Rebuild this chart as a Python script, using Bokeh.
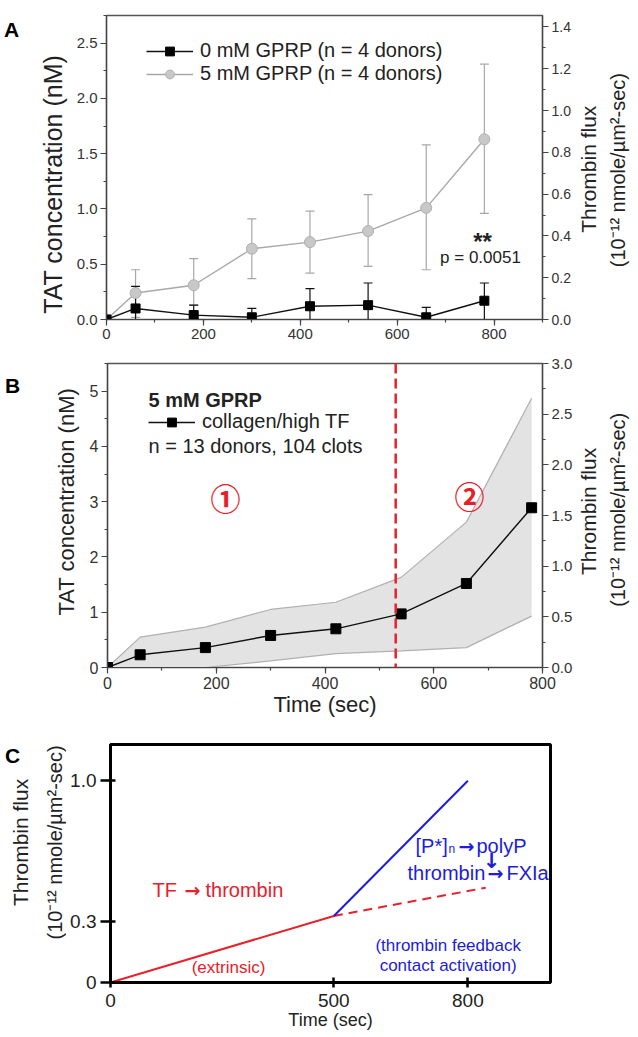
import math
from bokeh.plotting import figure
from bokeh.models import (Range1d, LinearAxis, SingleIntervalTicker, FixedTicker,
                          PrintfTickFormatter, Label, Legend, LegendItem, Whisker,
                          ColumnDataSource, Span, TeeHead)
from bokeh.core.properties import value
from bokeh.layouts import column, row
from bokeh.embed import file_html
from bokeh.resources import INLINE

FONT = "Liberation Sans"

# ---------------- Panel A data ----------------
time_a = [0, 60, 180, 300, 420, 540, 660, 780]
tat_0mm = [0, 0.10, 0.04, 0.02, 0.12, 0.13, 0.02, 0.17]
tat_0mm_upper = [0, 0.30, 0.13, 0.10, 0.28, 0.33, 0.11, 0.33]
tat_0mm_lower = [0, 0.0, 0.0, 0.0, 0.0, 0.0, 0.0, 0.0]
tat_5mm = [0, 0.24, 0.31, 0.64, 0.70, 0.80, 1.01, 1.63]
tat_5mm_upper = [0, 0.45, 0.55, 0.91, 0.98, 1.13, 1.58, 2.31]
tat_5mm_lower = [0, 0.02, 0.13, 0.37, 0.42, 0.48, 0.45, 0.96]
legend_a = ["0 mM GPRP (n = 4 donors)", "5 mM GPRP (n = 4 donors)"]

# ---------------- Panel B data ----------------
time_b = [0, 60, 180, 300, 420, 540, 660, 780]
tat_b = [0, 0.23, 0.36, 0.58, 0.70, 0.97, 1.52, 2.89]
tat_b_upper = [0, 0.55, 0.73, 1.05, 1.18, 1.63, 2.63, 4.87]
tat_b_lower = [0, 0.0, 0.0, 0.12, 0.25, 0.30, 0.36, 0.93]
phase_boundary_b = 530

# ---------------- Panel C data ----------------
time_extrinsic = [0, 500]
flux_extrinsic = [0, 0.33]
time_extrap = [500, 840]
flux_extrap = [0.33, 0.47]
time_contact = [500, 800]
flux_contact = [0.33, 1.0]
ticks_c_x = [0, 500, 800]
ticks_c_y = [0, 0.3, 1.0]

FLUX_UNITS = "(10\u207b\u00b9\u00b2 nmole/\u00b5m\u00b2-sec)"
RED = "#e8202a"
BLUE = "#1c1cdc"
TXT = "#222222"


def lab(p, sx, sy, text, size, color=TXT, bold=False, align="center", font=FONT):
    p.add_layout(Label(x=sx, y=sy, x_units="screen", y_units="screen", text=text,
                       text_font=font, text_font_size=f"{size}px", text_color=color,
                       text_font_style="bold" if bold else "normal",
                       text_align=align, text_baseline="middle"))


def style_axis(ax, size, color="#444444", out=6, minor_out=3, tin=0, standoff=4, lw=1.2):
    ax.axis_line_color = color
    ax.axis_line_width = lw
    ax.major_tick_line_color = color
    ax.minor_tick_line_color = color
    ax.major_tick_line_width = lw
    ax.minor_tick_line_width = lw
    ax.major_tick_out = out
    ax.major_tick_in = tin
    ax.minor_tick_out = minor_out
    ax.minor_tick_in = 0
    ax.major_label_text_font = FONT
    ax.major_label_text_font_size = f"{size}px"
    ax.major_label_text_color = "#333333"
    ax.major_label_standoff = standoff


def base_fig(w, h, xr, yr, bl, br, bt, bb):
    p = figure(width=w, height=h, x_range=xr, y_range=yr, toolbar_location=None,
               output_backend="svg", min_border_left=bl, min_border_right=br,
               min_border_top=bt, min_border_bottom=bb)
    p.xgrid.visible = False
    p.ygrid.visible = False
    p.background_fill_color = "white"
    p.border_fill_color = "white"
    return p


def strip(w, h, items):
    """Blank figure (pixel coordinates) that carries the axis titles outside a frame."""
    s = figure(width=w, height=h, x_range=Range1d(0, w), y_range=Range1d(0, h),
               toolbar_location=None, output_backend="svg", min_border=0,
               x_axis_location=None, y_axis_location=None)
    s.outline_line_color = None
    s.xgrid.visible = False
    s.ygrid.visible = False
    s.border_fill_color = "white"
    for (x, y, text, size, bold, angle) in items:
        s.text(x=[x], y=[y], text=[text], angle=angle, text_font=value(FONT),
               text_font_size=value(f"{size}px"),
               text_font_style="bold" if bold else "normal",
               text_color="black" if bold else TXT,
               text_align="center", text_baseline="middle")
    return s


UP = math.pi / 2

# ================= Panel A =================
HA = 346
pA = base_fig(505, HA, Range1d(0, 900), Range1d(0, 2.75), 36, 33, 15, 27)
pA.extra_y_ranges = {"flux": Range1d(0, 1.455)}
pA.outline_line_color = "#555555"
pA.outline_line_width = 1.5
pA.xaxis.ticker = SingleIntervalTicker(interval=200, num_minor_ticks=2)
pA.xaxis.formatter = PrintfTickFormatter(format="%d")
pA.yaxis.ticker = SingleIntervalTicker(interval=0.5, num_minor_ticks=2)
pA.yaxis.formatter = PrintfTickFormatter(format="%.1f")
rA = LinearAxis(y_range_name="flux", ticker=SingleIntervalTicker(interval=0.2, num_minor_ticks=2),
                formatter=PrintfTickFormatter(format="%.1f"))
pA.add_layout(rA, "right")
style_axis(pA.xaxis[0], 15, standoff=3)
style_axis(pA.yaxis[0], 15, standoff=3)
style_axis(rA, 14, standoff=3)

src5 = ColumnDataSource(dict(t=time_a[1:], hi=tat_5mm_upper[1:], lo=tat_5mm_lower[1:]))
src0 = ColumnDataSource(dict(t=time_a[1:], hi=tat_0mm_upper[1:], lo=tat_0mm_lower[1:]))
pA.add_layout(Whisker(source=src5, base="t", upper="hi", lower="lo", line_color="#a8a8a8",
                      line_width=1.2,
                      upper_head=TeeHead(size=9, line_color="#a8a8a8", line_width=1.2),
                      lower_head=TeeHead(size=9, line_color="#a8a8a8", line_width=1.2)))
pA.add_layout(Whisker(source=src0, base="t", upper="hi", lower="lo", line_color="#111111",
                      line_width=1.2,
                      upper_head=TeeHead(size=9, line_color="#111111", line_width=1.2),
                      lower_head=TeeHead(size=9, line_color="#111111", line_width=1.2)))
l5 = pA.line(time_a, tat_5mm, line_color="#a8a8a8", line_width=1.4)
c5 = pA.scatter(time_a, tat_5mm, marker="circle", size=11, fill_color="#c8c8c8",
                line_color="#b0b0b0")
l0 = pA.line(time_a, tat_0mm, line_color="#111111", line_width=1.4)
s0 = pA.scatter(time_a, tat_0mm, marker="square", size=9, fill_color="black",
                line_color="black")
legA = Legend(items=[LegendItem(label=legend_a[0], renderers=[l0, s0]),
                     LegendItem(label=legend_a[1], renderers=[l5, c5])],
              location=(40, 234), glyph_width=47, glyph_height=22, label_height=22,
              label_text_font=FONT, label_text_font_size="20px", label_text_color=TXT,
              label_standoff=7, spacing=0, padding=0, margin=0,
              border_line_alpha=0, background_fill_alpha=0)
pA.add_layout(legA)
lab(pA, 376, 78, "**", 24, bold=True)
lab(pA, 374, 62, "p = 0.0051", 17)

sAL = strip(70, HA, [(11, HA - 16, "A", 21, True, 0),
                     (52, HA - 192, "TAT concentration (nM)", 25, False, UP)])
sAR = strip(61, HA, [(13, HA - 175, "Thrombin flux", 21, False, UP),
                     (42, HA - 176, FLUX_UNITS, 20, False, UP)])

# ================= Panel B =================
HB = 374
pB = base_fig(493, HB, Range1d(0, 800), Range1d(0, 5.5), 25, 32, 17, 53)
pB.extra_y_ranges = {"flux": Range1d(0, 3.0)}
pB.outline_line_color = "#555555"
pB.outline_line_width = 1.5
pB.xaxis.ticker = SingleIntervalTicker(interval=200, num_minor_ticks=2)
pB.xaxis.formatter = PrintfTickFormatter(format="%d")
pB.yaxis.ticker = SingleIntervalTicker(interval=1, num_minor_ticks=2)
pB.yaxis.formatter = PrintfTickFormatter(format="%d")
rB = LinearAxis(y_range_name="flux", ticker=SingleIntervalTicker(interval=0.5, num_minor_ticks=2),
                formatter=PrintfTickFormatter(format="%.1f"))
pB.add_layout(rB, "right")
style_axis(pB.xaxis[0], 16, standoff=3)
style_axis(pB.yaxis[0], 16, standoff=3)
style_axis(rB, 15, standoff=3)
pB.xaxis.axis_label = "Time (sec)"
pB.xaxis.axis_label_text_font = FONT
pB.xaxis.axis_label_text_font_size = "22px"
pB.xaxis.axis_label_text_font_style = "normal"
pB.xaxis.axis_label_text_color = TXT
pB.xaxis.axis_label_standoff = 0

pB.varea(x=time_b, y1=tat_b_lower, y2=tat_b_upper, fill_color="#e3e3e3")
pB.line(time_b, tat_b_upper, line_color="#b0b0b0", line_width=1.2)
pB.line(time_b, tat_b_lower, line_color="#b0b0b0", line_width=1.2)
pB.add_layout(Span(location=phase_boundary_b, dimension="height", line_color=RED,
                   line_width=2.5, line_dash="10 5"))
lB = pB.line(time_b, tat_b, line_color="#111111", line_width=1.4)
sB = pB.scatter(time_b, tat_b, marker="square", size=10, fill_color="black", line_color="black")
legB = Legend(items=[LegendItem(label="collagen/high TF", renderers=[lB, sB])],
              location=(41, 234), glyph_width=47, glyph_height=22, label_height=22,
              label_text_font=FONT, label_text_font_size="20px", label_text_color=TXT,
              label_standoff=7, spacing=0, padding=0, margin=0,
              border_line_alpha=0, background_fill_alpha=0)
pB.add_layout(legB)
lab(pB, 41, 268, "5 mM GPRP", 20, bold=True, align="left")
lab(pB, 41, 222, "n = 13 donors, 104 clots", 20, align="left")
lab(pB, 118, 171, "\u2460", 30, color=RED, bold=True, font="Noto Sans CJK SC")
lab(pB, 362, 173, "\u2461", 30, color=RED, bold=True, font="Noto Sans CJK SC")

sBL = strip(82, HB, [(12, HB - 27, "B", 21, True, 0),
                     (66, HB - 170, "TAT concentration (nM)", 22, False, UP)])
sBR = strip(61, HB, [(13, HB - 182, "Thrombin flux", 21, False, UP),
                     (42, HB - 180, FLUX_UNITS, 20, False, UP)])

# ================= Panel C =================
HC = 316
pC = base_fig(570, HC, Range1d(0, 985), Range1d(0, 1.18), 44, 86, 24, 54)
pC.outline_line_color = "black"
pC.outline_line_width = 3
pC.xaxis.ticker = FixedTicker(ticks=ticks_c_x)
pC.yaxis.ticker = FixedTicker(ticks=ticks_c_y)
pC.xaxis.major_label_overrides = {0: "0", 500: "500", 800: "800"}
pC.yaxis.major_label_overrides = {0: "0", 0.3: "0.3", 1.0: "1.0"}
style_axis(pC.xaxis[0], 19, color="black", out=5, tin=5, standoff=6, lw=2.5)
style_axis(pC.yaxis[0], 19, color="black", out=10, tin=5, standoff=4, lw=2.5)
for ax in [pC.xaxis[0], pC.yaxis[0]]:
    ax.major_label_text_color = TXT
    ax.minor_tick_line_color = None
pC.xaxis.axis_label = "Time (sec)"
pC.xaxis.axis_label_text_font = FONT
pC.xaxis.axis_label_text_font_size = "18px"
pC.xaxis.axis_label_text_font_style = "normal"
pC.xaxis.axis_label_text_color = TXT
pC.xaxis.axis_label_standoff = 0

pC.line(time_extrinsic, flux_extrinsic, line_color=RED, line_width=2)
pC.line(time_extrap, flux_extrap, line_color=RED, line_width=2, line_dash="9 6")
pC.line(time_contact, flux_contact, line_color=BLUE, line_width=2)
lab(pC, 42, 93, "TF", 20, color=RED, align="left")
lab(pC, 82, 93, "\u2192", 19, color=RED, bold=True, font="DejaVu Sans")
lab(pC, 95, 93, "thrombin", 20, color=RED, align="left")
lab(pC, 118, 15, "(extrinsic)", 17, color=RED)
lab(pC, 305, 137, "[P*]", 20, color=BLUE, align="left")
lab(pC, 338, 134, "n", 12, color=BLUE, align="left")
lab(pC, 356, 137, "\u2192", 19, color=BLUE, bold=True, font="DejaVu Sans")
lab(pC, 366, 137, "polyP", 20, color=BLUE, align="left")
lab(pC, 381, 122, "\u2193", 21, color=BLUE, bold=True, font="DejaVu Sans")
lab(pC, 297, 110, "thrombin", 20, color=BLUE, align="left")
lab(pC, 385, 110, "\u2192", 19, color=BLUE, bold=True, font="DejaVu Sans")
lab(pC, 396, 110, "FXIa", 20, color=BLUE, align="left")
lab(pC, 340, 37, "(thrombin  feedback", 17, color=BLUE)
lab(pC, 340, 17, "contact  activation)", 17, color=BLUE)

sCL = strip(66, HC, [(12, HC - 15, "C", 21, True, 0),
                     (20, HC - 130, "Thrombin flux", 21, False, UP),
                     (54, HC - 130, FLUX_UNITS, 20, False, UP)])

layout = column(row(sAL, pA, sAR, spacing=0),
                row(sBL, pB, sBR, spacing=0),
                row(sCL, pC, spacing=0), spacing=0)
open("out.html", "w").write(file_html(layout, INLINE))
